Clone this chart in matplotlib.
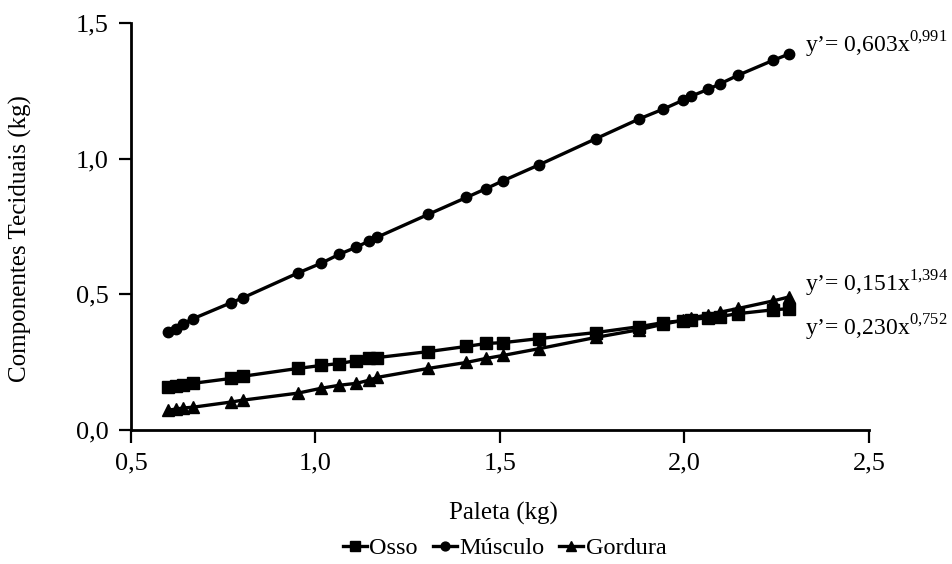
import matplotlib.pyplot as plt
from matplotlib.ticker import FuncFormatter

plt.rcParams['font.family'] = ['Liberation Serif', 'DejaVu Serif']
plt.rcParams['mathtext.fontset'] = 'custom'
plt.rcParams['mathtext.rm'] = 'Liberation Serif'

# peso da paleta (kg)
paleta = [0.600, 0.622, 0.641, 0.668, 0.771, 0.803, 0.953, 1.016, 1.065,
          1.111, 1.144, 1.168, 1.306, 1.409, 1.463, 1.509, 1.607, 1.759,
          1.878, 1.943, 1.997, 2.019, 2.065, 2.095, 2.146, 2.241, 2.282]

osso = [0.158, 0.161, 0.165, 0.172, 0.190, 0.198, 0.227, 0.238, 0.245,
        0.256, 0.264, 0.267, 0.289, 0.308, 0.319, 0.322, 0.337, 0.359,
        0.381, 0.396, 0.403, 0.407, 0.414, 0.418, 0.429, 0.443, 0.447]

musculo = [0.363, 0.374, 0.392, 0.410, 0.469, 0.487, 0.579, 0.615, 0.648,
           0.674, 0.696, 0.711, 0.795, 0.857, 0.890, 0.919, 0.978, 1.073,
           1.147, 1.183, 1.216, 1.231, 1.256, 1.275, 1.308, 1.363, 1.385]

gordura = [0.073, 0.077, 0.081, 0.084, 0.103, 0.110, 0.136, 0.154, 0.165,
           0.172, 0.183, 0.194, 0.227, 0.249, 0.264, 0.275, 0.300, 0.341,
           0.370, 0.390, 0.405, 0.413, 0.425, 0.434, 0.448, 0.476, 0.490]

equacoes = ["y’= 0,603x$^{\\mathrm{0{,}991}}$",
            "y’= 0,151x$^{\\mathrm{1{,}394}}$",
            "y’= 0,230x$^{\\mathrm{0{,}752}}$"]
eq_y = [1.421, 0.538, 0.377]

fig = plt.figure(figsize=(9.52, 5.64), dpi=100)
ax = fig.add_axes([0.1376, 0.2376, 0.7752, 0.7216])

ax.plot(paleta, osso, color='black', lw=2.4, marker='s', ms=8.5, label='Osso')
ax.plot(paleta, musculo, color='black', lw=2.4, marker='o', ms=7.5, label='Músculo')
ax.plot(paleta, gordura, color='black', lw=2.4, marker='^', ms=9, label='Gordura')

for txt, yy in zip(equacoes, eq_y):
    ax.text(2.326, yy, txt, fontsize=17, va='center', ha='left', clip_on=False)

ax.set_xlim(0.5, 2.5)
ax.set_ylim(0.0, 1.5)
ax.set_xticks([0.5, 1.0, 1.5, 2.0, 2.5])
ax.set_yticks([0.0, 0.5, 1.0, 1.5])
virgula = FuncFormatter(lambda v, p: f"{v:.1f}".replace('.', ','))
ax.xaxis.set_major_formatter(virgula)
ax.yaxis.set_major_formatter(virgula)

ax.spines['top'].set_visible(False)
ax.spines['right'].set_visible(False)
ax.spines['left'].set_linewidth(2)
ax.spines['bottom'].set_linewidth(2)
ax.tick_params(direction='out', length=9, width=1.6, labelsize=19, pad=7)

ax.set_xlabel('Paleta (kg)', fontsize=18, va='center')
ax.xaxis.set_label_coords(0.504, -0.204)
ax.set_ylabel('Componentes Teciduais (kg)', fontsize=18, va='center')
ax.yaxis.set_label_coords(-0.150, 0.47)

fig.legend(loc='center', bbox_to_anchor=(0.53, 0.028), ncol=3, frameon=False,
           fontsize=17.5, handlelength=1.0, handletextpad=0.1, columnspacing=0.6,
           markerscale=0.85)

fig.savefig('out.png', dpi=100)
